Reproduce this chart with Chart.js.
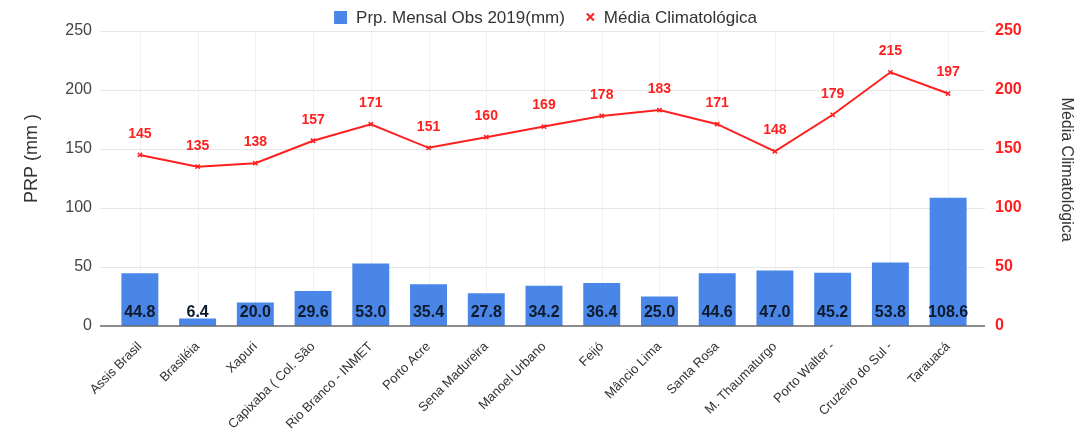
<!DOCTYPE html>
<html><head><meta charset="utf-8">
<script src="https://cdn.jsdelivr.net/npm/chart.js@4/dist/chart.umd.min.js"></script>
<style>html,body{margin:0;padding:0;background:#fff}#wrap{width:1086px;height:432px}</style>
</head><body><div id="wrap"><canvas id="c" width="1086" height="432"></canvas></div>
<script>
const categories = ["Assis Brasil","Brasiléia","Xapuri","Capixaba ( Col. São","Rio Branco - INMET","Porto Acre","Sena Madureira","Manoel Urbano","Feijó","Mâncio Lima","Santa Rosa","M. Thaumaturgo","Porto Walter -","Cruzeiro do Sul -","Tarauacá"];
const observed2019 = [44.8,6.4,20.0,29.6,53.0,35.4,27.8,34.2,36.4,25.0,44.6,47.0,45.2,53.8,108.6];
const climatology = [145,135,138,157,171,151,160,169,178,183,171,148,179,215,197];
const yTicks = [0,50,100,150,200,250];
const seriesNames = ['Prp. Mensal Obs 2019(mm)', 'Média Climatológica'];

const FONT = 'Arial, "Liberation Sans", sans-serif';
const BLUE = '#4a86e8', RED = '#ff1f1f';

const gridPlugin = {
  id: 'extGrid',
  beforeDatasetsDraw(chart) {
    const ctx = chart.ctx, a = chart.chartArea, yS = chart.scales.y, xS = chart.scales.x;
    const l = a.left - 11, r = a.right + 8;
    ctx.save();
    ctx.strokeStyle = '#f1f1f1'; ctx.lineWidth = 1;
    categories.forEach((c, i) => {
      const x = Math.round(xS.getPixelForValue(i)) + 0.5;
      ctx.beginPath(); ctx.moveTo(x, a.top); ctx.lineTo(x, a.bottom); ctx.stroke();
    });
    ctx.strokeStyle = '#e6e6e6';
    yTicks.forEach(v => {
      if (v === 0) return;
      const y = Math.round(yS.getPixelForValue(v)) + 0.5;
      ctx.beginPath(); ctx.moveTo(l, y); ctx.lineTo(r, y); ctx.stroke();
    });
    ctx.restore();
  },
  afterDatasetsDraw(chart) {
    const ctx = chart.ctx, a = chart.chartArea, yS = chart.scales.y;
    ctx.save();
    ctx.strokeStyle = '#666'; ctx.lineWidth = 1.5;
    const y = yS.getPixelForValue(0);
    ctx.beginPath(); ctx.moveTo(a.left - 11, y); ctx.lineTo(a.right + 8, y); ctx.stroke();
    ctx.restore();
  }
};

const labelPlugin = {
  id: 'valueLabels',
  afterDatasetsDraw(chart) {
    const ctx = chart.ctx;
    ctx.save();
    ctx.textAlign = 'center';
    const m0 = chart.getDatasetMeta(0);
    const yS = chart.scales.y;
    ctx.font = 'bold 16px ' + FONT;
    ctx.fillStyle = '#0d1a2b';
    ctx.textBaseline = 'middle';
    m0.data.forEach((el, i) => {
      ctx.fillText(observed2019[i].toFixed(1), el.x, yS.getPixelForValue(0) - 13);
    });
    const m1 = chart.getDatasetMeta(1);
    ctx.font = 'bold 14px ' + FONT;
    ctx.fillStyle = RED;
    m1.data.forEach((el, i) => {
      ctx.fillText(String(climatology[i]), el.x, el.y - 21);
    });
    ctx.restore();
  }
};

const legendPlugin = {
  id: 'customLegend',
  afterDraw(chart) {
    const ctx = chart.ctx;
    ctx.save();
    ctx.font = '17px ' + FONT;
    const w0 = ctx.measureText(seriesNames[0]).width, w1 = ctx.measureText(seriesNames[1]).width;
    const total = 13 + 9 + w0 + 22 + 8 + 10 + w1;
    let x = (chart.width - total) / 2 + 3;
    const cy = 17;
    ctx.fillStyle = BLUE; ctx.fillRect(x, cy - 6, 13, 13);
    x += 22;
    ctx.fillStyle = '#333'; ctx.textBaseline = 'middle'; ctx.textAlign = 'left';
    ctx.fillText(seriesNames[0], x, cy + 1);
    x += w0 + 22;
    ctx.strokeStyle = RED; ctx.lineWidth = 2;
    ctx.beginPath(); ctx.moveTo(x, cy - 3.5); ctx.lineTo(x + 7, cy + 3.5); ctx.moveTo(x + 7, cy - 3.5); ctx.lineTo(x, cy + 3.5); ctx.stroke();
    x += 17;
    ctx.fillText(seriesNames[1], x, cy + 1);
    ctx.restore();
  }
};

new Chart(document.getElementById('c'), {
  data: {
    labels: categories,
    datasets: [
      { type: 'bar', label: seriesNames[0], data: observed2019, backgroundColor: BLUE, borderWidth: 0, barPercentage: 0.64, categoryPercentage: 1, yAxisID: 'y', order: 2 },
      { type: 'line', label: seriesNames[1], data: climatology, borderColor: RED, backgroundColor: RED, borderWidth: 2, pointStyle: 'crossRot', pointRadius: 3, pointBorderWidth: 1.5, yAxisID: 'y1', order: 1, tension: 0 }
    ]
  },
  options: {
    responsive: false, animation: false,
    layout: { padding: { top: 31, left: 0, right: 0, bottom: 0 } },
    plugins: { legend: { display: false }, tooltip: { enabled: false } },
    scales: {
      x: { grid: { display: false, drawTicks: false }, border: { display: false },
        afterFit(s) { s.height = 106; },
        ticks: { autoSkip: false, maxRotation: 45, minRotation: 45, color: '#333', font: { size: 13, family: FONT }, padding: 13 } },
      y: { position: 'left', min: 0, max: 250, afterBuildTicks(s){ s.ticks = yTicks.map(v=>({value:v})); },
        afterFit(s) { s.width = 111; },
        grid: { display: false, drawTicks: false }, border: { display: false },
        ticks: { color: '#444', font: { size: 16, family: FONT }, padding: 19 },
        title: { display: true, text: '        PRP (mm )', color: '#333', font: { size: 18, family: FONT }, padding: { top: 21, bottom: 0 } } },
      y1: { position: 'right', min: 0, max: 250, afterBuildTicks(s){ s.ticks = yTicks.map(v=>({value:v})); },
        afterFit(s) { s.width = 109; },
        grid: { display: false, drawTicks: false }, border: { display: false },
        ticks: { color: RED, font: { size: 16, weight: 'bold', family: FONT }, padding: 18 },
        title: { display: true, text: 'Média Climatológica    ', color: '#333', font: { size: 16, family: FONT }, padding: { top: 10, bottom: 0 } } }
    }
  },
  plugins: [gridPlugin, labelPlugin, legendPlugin]
});
</script></body></html>
